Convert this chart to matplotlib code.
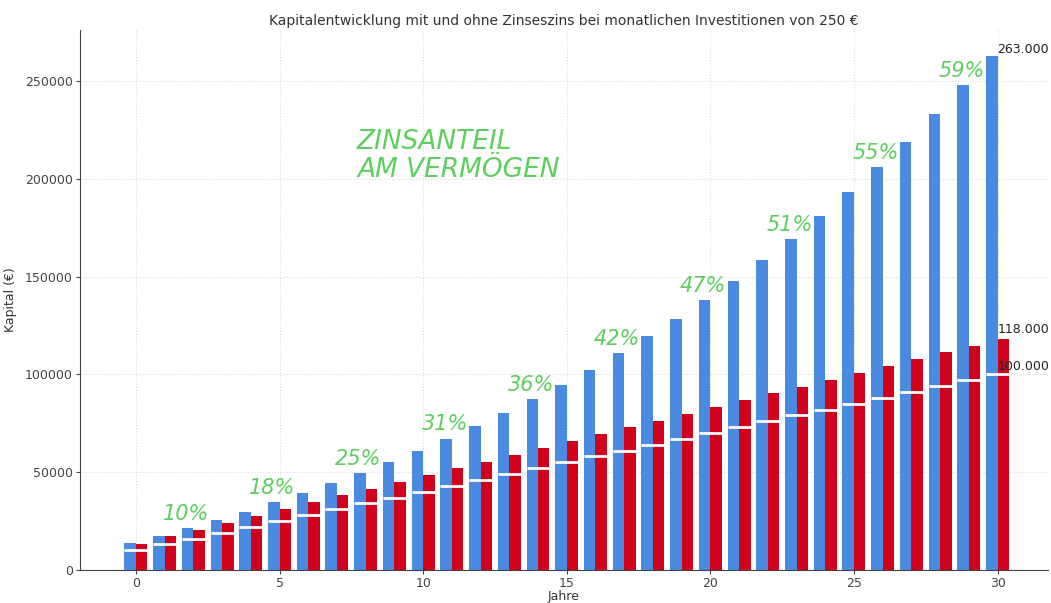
import numpy as np
import matplotlib.pyplot as plt

# Werte
jahre = list(range(31))
mit_zinseszins = [13700, 17500, 21400, 25400, 29700, 34500, 39300, 44400, 49700, 55200,
                  60900, 67200, 73400, 80200, 87400, 94700, 102500, 111000, 119500, 128400,
                  138000, 148000, 158600, 169400, 180900, 193400, 205900, 219100, 233400, 248100,
                  263000]
ohne_zinseszins = [13400, 17100, 20600, 24000, 27400, 31200, 34600, 38100, 41500, 44900,
                   48500, 52100, 55400, 59000, 62400, 66000, 69400, 72900, 76300, 79900,
                   83200, 86900, 90400, 93800, 97200, 100800, 104300, 107900, 111300, 114700,
                   118000]
eingezahlt = [10000 + 3000 * j for j in jahre]

anteil_jahre = [2, 5, 8, 11, 14, 17, 20, 23, 26, 29]
anteil_prozent = [10, 18, 25, 31, 36, 42, 47, 51, 55, 59]

blau = '#4a8ae0'
rot = '#d0021b'
gruen = '#5ccf5c'

fig = plt.figure(figsize=(10.51, 6.03), dpi=100)
ax = fig.add_axes([0.076, 0.055, 0.921, 0.895])

x = np.array(jahre)
ax.bar(x - 0.4, mit_zinseszins, width=0.4, align='edge', color=blau, zorder=2)
ax.bar(x, ohne_zinseszins, width=0.4, align='edge', color=rot, zorder=2)
ax.hlines(eingezahlt, x - 0.4, x + 0.4, colors='white', linewidth=2, zorder=3)
ax.set_xlim(-1.95, 31.75)

ax.grid(True, color='#dddddd', linestyle=':', linewidth=0.8, zorder=0)
ax.set_axisbelow(True)
for s in ['top', 'right']:
    ax.spines[s].set_visible(False)
for s in ['left', 'bottom']:
    ax.spines[s].set_color('#444444')
ax.tick_params(labelsize=9, colors='#444444', length=3, pad=2)
ax.set_xticks([0, 5, 10, 15, 20, 25, 30])

ax.set_title('Kapitalentwicklung mit und ohne Zinseszins bei monatlichen Investitionen von 250 €',
             fontsize=10, color='#333333', pad=4)
ax.set_xlabel('Jahre', fontsize=9, color='#333333', labelpad=0)
ax.set_ylabel('Kapital (€)', fontsize=9, color='#333333', labelpad=6)

# Endwerte
ax.text(30, mit_zinseszins[-1], '263.000', fontsize=9, color='#222222', va='bottom', ha='left', zorder=5)
ax.text(30, ohne_zinseszins[-1] + 1500, '118.000', fontsize=9, color='#222222', va='bottom', ha='left', zorder=5)
ax.text(30, eingezahlt[-1] + 500, '100.000', fontsize=9, color='#222222', va='bottom', ha='left', zorder=5)

# Handschriftliche Notizen
for j, p in zip(anteil_jahre, anteil_prozent):
    ax.annotate(f'{p}%', (j - 0.25, mit_zinseszins[j]), xytext=(0, 3), textcoords='offset points',
                ha='center', va='bottom', fontsize=15, color=gruen, fontstyle='italic', zorder=4)

ax.text(7.7, 212000, 'ZINSANTEIL\nAM VERMÖGEN', fontsize=19, color=gruen, ha='left', va='center',
        linespacing=1.1, fontstyle='italic')

fig.savefig('out.png', dpi=100)
